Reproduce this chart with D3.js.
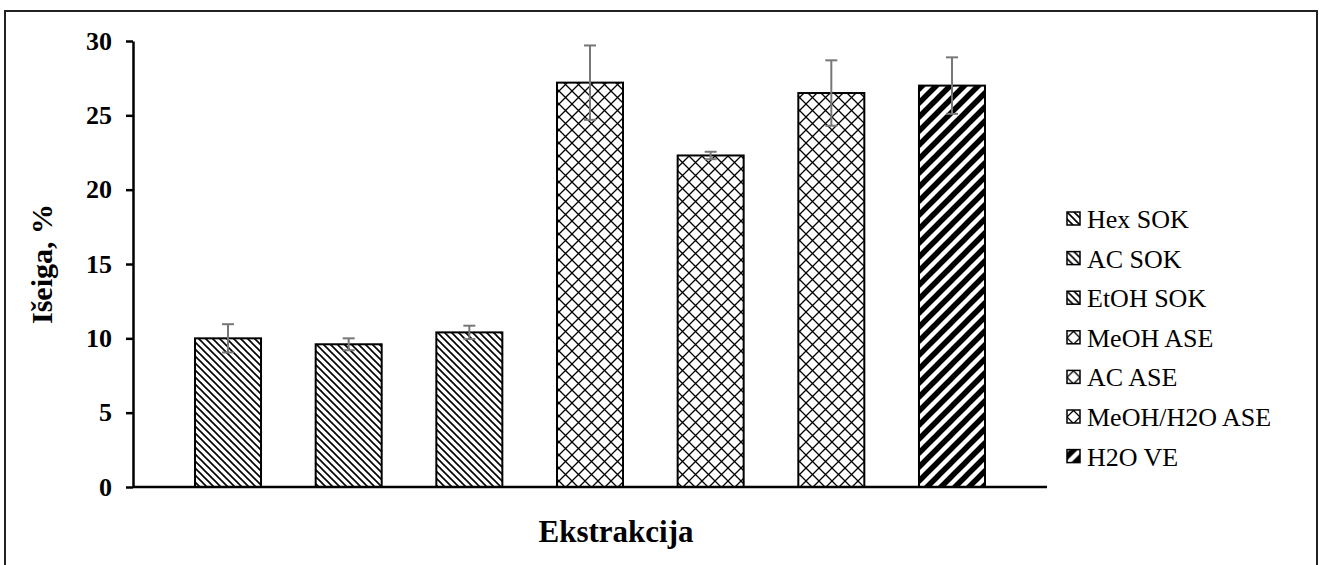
<!DOCTYPE html>
<meta charset="utf-8">
<style>
body { margin: 0; background: #fff; font-family: "Liberation Serif", "Times New Roman", serif; }
.axis path, .axis line { stroke: #000; stroke-width: 2.5; }
.axis text { font-family: "Liberation Serif", serif; font-weight: bold; font-size: 26px; fill: #000; }
</style>
<body>
<svg width="1319" height="565"></svg>
<script src="https://cdn.jsdelivr.net/npm/d3@7"></script>
<script>
// data
var series = ["Hex SOK", "AC SOK", "EtOH SOK", "MeOH ASE", "AC ASE", "MeOH/H2O ASE", "H2O VE"];
var values = [10.0, 9.6, 10.4, 27.2, 22.3, 26.5, 27.0];
var errors = [0.95, 0.4, 0.45, 2.5, 0.25, 2.2, 1.9];
var yTicks = [0, 5, 10, 15, 20, 25, 30];
var fills = ["down", "down", "down", "diamond", "diamond", "diamond", "up"];

var svg = d3.select("svg");

// outer frame
svg.append("rect")
    .attr("x", 5).attr("y", 11)
    .attr("width", 1312).attr("height", 570)
    .attr("fill", "none").attr("stroke", "#222").attr("stroke-width", 2);

var defs = svg.append("defs");
var down = defs.append("pattern").attr("id", "down")
    .attr("patternUnits", "userSpaceOnUse").attr("width", 7).attr("height", 7);
down.append("rect").attr("width", 7).attr("height", 7).attr("fill", "#fff");
down.append("path").attr("d", "M-1,-1 L8,8 M-1,6 L1,8 M6,-1 L8,1")
    .attr("stroke", "#000").attr("stroke-width", 1.6);

var diamond = defs.append("pattern").attr("id", "diamond")
    .attr("patternUnits", "userSpaceOnUse").attr("width", 13).attr("height", 13);
diamond.append("rect").attr("width", 13).attr("height", 13).attr("fill", "#fff");
diamond.append("path").attr("d", "M0,0 L13,13 M13,0 L0,13")
    .attr("stroke", "#000").attr("stroke-width", 1.3);

var up = defs.append("pattern").attr("id", "up")
    .attr("patternUnits", "userSpaceOnUse").attr("width", 14).attr("height", 14);
up.append("rect").attr("width", 14).attr("height", 14).attr("fill", "#fff");
up.append("path").attr("d", "M-2,16 L16,-2 M-9,9 L9,-9 M5,23 L23,5")
    .attr("stroke", "#000").attr("stroke-width", 5.5);

var x = d3.scaleBand()
    .domain(series)
    .range([133, 1047])
    .paddingInner(0.453)
    .paddingOuter(0.514);

var y = d3.scaleLinear()
    .domain([0, 30])
    .range([487, 41]);

// bars
svg.selectAll("rect.bar")
    .data(series)
    .enter().append("rect")
    .attr("class", "bar")
    .attr("x", function (d) { return x(d); })
    .attr("y", function (d, i) { return y(values[i]); })
    .attr("width", x.bandwidth())
    .attr("height", function (d, i) { return y(0) - y(values[i]); })
    .attr("fill", function (d, i) { return "url(#" + fills[i] + ")"; })
    .attr("stroke", "#000")
    .attr("stroke-width", 2);

// error bars
var eb = svg.selectAll("g.err")
    .data(series)
    .enter().append("g")
    .attr("class", "err")
    .attr("stroke", "#777")
    .attr("stroke-width", 2);
eb.append("line")
    .attr("x1", function (d) { return x(d) + x.bandwidth() / 2; })
    .attr("x2", function (d) { return x(d) + x.bandwidth() / 2; })
    .attr("y1", function (d, i) { return y(values[i] - errors[i]); })
    .attr("y2", function (d, i) { return y(values[i] + errors[i]); });
[-1, 1].forEach(function (s) {
    eb.append("line")
        .attr("x1", function (d) { return x(d) + x.bandwidth() / 2 - 6; })
        .attr("x2", function (d) { return x(d) + x.bandwidth() / 2 + 6; })
        .attr("y1", function (d, i) { return y(values[i] + s * errors[i]); })
        .attr("y2", function (d, i) { return y(values[i] + s * errors[i]); });
});

// axes
svg.append("g")
    .attr("class", "axis")
    .attr("transform", "translate(133,0)")
    .call(d3.axisLeft(y).tickValues(yTicks).tickSize(7).tickPadding(14).tickSizeOuter(0));

svg.append("line")
    .attr("x1", 133).attr("x2", 1047)
    .attr("y1", y(0)).attr("y2", y(0))
    .attr("stroke", "#000").attr("stroke-width", 2.5);

// axis titles
svg.append("text")
    .attr("x", 616).attr("y", 542)
    .attr("text-anchor", "middle")
    .style("font-weight", "bold").style("font-size", "31px")
    .text("Ekstrakcija");

svg.append("text")
    .attr("transform", "translate(52,264) rotate(-90)")
    .attr("text-anchor", "middle")
    .style("font-weight", "bold").style("font-size", "30px")
    .text("Išeiga, %");

// legend
var leg = svg.selectAll("g.leg")
    .data(series)
    .enter().append("g")
    .attr("class", "leg")
    .attr("transform", function (d, i) { return "translate(1067," + (219 + i * 39.6) + ")"; });
leg.append("rect")
    .attr("x", 0).attr("y", -7)
    .attr("width", 13).attr("height", 13)
    .attr("fill", function (d, i) { return "url(#" + fills[i] + ")"; })
    .attr("stroke", "#000").attr("stroke-width", 1.5);
leg.append("text")
    .attr("x", 20).attr("y", 9)
    .style("font-size", "26px")
    .text(function (d) { return d; });
</script>
</body>
